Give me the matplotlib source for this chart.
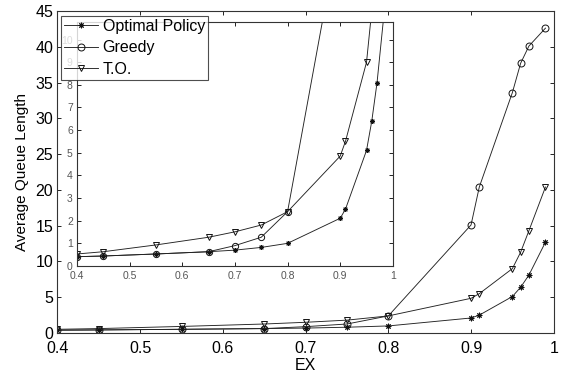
import matplotlib
matplotlib.use("Agg")
import matplotlib.pyplot as plt
from matplotlib.ticker import FixedLocator, FuncFormatter

plt.rcParams["font.family"] = ["Liberation Sans", "DejaVu Sans"]

# load factor EX and average queue length per policy
ex = [0.4, 0.45, 0.55, 0.65, 0.7, 0.75, 0.8, 0.9, 0.91, 0.95, 0.96, 0.97, 0.99]
optimal = [0.4, 0.43, 0.52, 0.62, 0.69, 0.81, 0.99, 2.1, 2.5, 5.1, 6.4, 8.1, 12.7]
greedy = [0.4, 0.43, 0.52, 0.62, 0.89, 1.26, 2.39, 15.1, 20.4, 33.6, 37.7, 40.1, 42.6]
to = [0.52, 0.62, 0.92, 1.26, 1.5, 1.8, 2.39, 4.85, 5.5, 9.0, 11.3, 14.3, 20.4]

labels = ["Optimal Policy", "Greedy", "T.O."]
markers = [(8, 2, 0), "o", "v"]
sizes = [4.0, 5.0, 5.0]
series = [optimal, greedy, to]

x_ticks = [0.4, 0.5, 0.6, 0.7, 0.8, 0.9, 1.0]
main_yticks = list(range(0, 50, 5))
inset_yticks = list(range(0, 11))

fmt_x = FuncFormatter(lambda v, p: "1" if abs(v - 1) < 1e-9 else f"{v:.1f}")


def draw(ax, scale, lw):
    handles = []
    for y, m, s, lab in zip(series, markers, sizes, labels):
        h, = ax.plot(ex, y, color="#222222", lw=lw, marker=m, ms=s * scale,
                     mfc="none", mec="#111111", mew=0.7, label=lab)
        handles.append(h)
    return handles


def style(ax, size, color, xpad, ypad):
    for s in ax.spines.values():
        s.set_linewidth(0.8)
        s.set_color("#333333")
    ax.tick_params(direction="in", top=True, right=True, labelsize=size,
                   labelcolor=color, length=3, width=0.6)
    ax.tick_params(axis="x", pad=xpad)
    ax.tick_params(axis="y", pad=ypad)
    ax.xaxis.set_major_locator(FixedLocator(x_ticks))
    ax.xaxis.set_major_formatter(fmt_x)


fig = plt.figure(figsize=(5.62, 3.78), dpi=100)

ax = fig.add_axes([0.1023, 0.119, 0.883, 0.852])
handles = draw(ax, 1.0, 0.65)
ax.set_xlim(0.4, 1.0)
ax.set_ylim(0, 45)
ax.yaxis.set_major_locator(FixedLocator(main_yticks))
style(ax, 11.5, "black", 6, 3)
ax.set_xlabel("EX", fontsize=11.5, labelpad=1)
ax.set_ylabel("Average Queue Length", fontsize=11, labelpad=5)

ins = fig.add_axes([0.137, 0.297, 0.562, 0.646])
draw(ins, 0.9, 0.65)
ins.set_xlim(0.4, 1.0)
ins.set_ylim(0, 10.8)
ins.yaxis.set_major_locator(FixedLocator(inset_yticks))
style(ins, 7.5, "#555555", 4, 3)

leg = ins.legend(handles=handles, loc="upper left",
                 bbox_to_anchor=(0.1085, 0.958),
                 bbox_transform=fig.transFigure, fontsize=11.5,
                 frameon=True, fancybox=False, borderpad=0.2,
                 labelspacing=0.4, handlelength=2.1, handletextpad=0.3,
                 borderaxespad=0)
leg.get_frame().set_edgecolor("#222222")
leg.get_frame().set_linewidth(0.8)
leg.set_zorder(10)

fig.savefig("out.png", dpi=100)
